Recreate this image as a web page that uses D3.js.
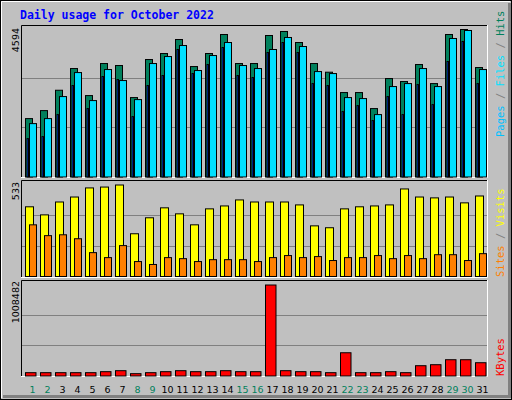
<!DOCTYPE html>
<html><head><meta charset="utf-8">
<script src="https://cdn.jsdelivr.net/npm/d3@7"></script>
<style>body{margin:0;background:#fff}</style>
</head><body><div id="chart"></div>
<script>
// Webalizer style daily usage, October 2022
var days = d3.range(1, 32)
var weekend = [1, 2, 8, 9, 15, 16, 22, 23, 29, 30]
var hits = [1819,2068,2702,3378,2536,3534,3472,2474,3659,3846,4282,3440,3846,4438,3534,3534,4407,4532,4189,3534,3264,2630,2630,2131,3066,2973,3503,2910,4438,4594,3409]
var files = [1663,1819,2505,3253,2380,3347,3004,2411,3534,3752,4095,3316,3783,4189,3472,3378,3971,4345,4064,3284,3222,2474,2443,1944,2817,2910,3378,2817,4314,4563,3347]
var pages = [1195,1258,1944,2848,2131,3129,3035,1881,2848,3160,3971,3222,3503,4033,3160,3097,3877,4189,3877,2910,2848,2037,2224,1757,2505,1944,2879,2255,3596,4220,2910]
var visits = [406,359,434,463,516,521,533,249,342,400,365,301,394,411,446,434,434,434,417,295,284,394,406,411,417,510,463,458,463,429,469]
var sites = [301,238,243,220,139,110,180,87,70,110,104,87,98,98,98,87,110,122,110,116,93,110,110,122,104,122,104,127,127,93,133]
var kbytes = [36806,36806,36806,36806,36806,47848,58890,25764,36806,47848,58890,47848,47848,58890,47848,47848,1008482,58890,47848,47848,36806,257642,36806,36806,47848,36806,114099,125140,180349,180349,147224]

var W = 512, H = 400
var svg = d3.select('#chart').append('svg').attr('width', W).attr('height', H)

// frame
svg.append('rect').attr('x', 0.5).attr('y', 0.5).attr('width', W - 1).attr('height', H - 1)
  .attr('fill', '#c0c0c0').attr('stroke', '#000')
svg.append('path').attr('d', 'M1.5,398V1.5H510').attr('stroke', '#fff').attr('fill', 'none')
svg.append('path').attr('d', 'M3,396.5H509.5V3').attr('stroke', '#808080').attr('stroke-width', 3).attr('fill', 'none')

svg.append('text').attr('x', 20).attr('y', 19).text('Daily usage for October 2022')
  .attr('font-family', 'DejaVu Sans Mono, monospace').attr('font-weight', 'bold')
  .attr('font-size', 11.5).attr('fill', '#0000ff')

var x = d3.scaleBand().domain(days).range([21, 486])

function panel(top, bottom, yscale, maxVal) {
  svg.append('rect').attr('x', 21).attr('y', top).attr('width', 466).attr('height', bottom - top)
    .attr('fill', '#c0c0c0')
  svg.append('path').attr('d', 'M21.5,' + bottom + 'V' + (top + 0.5) + 'H487')
    .attr('stroke', '#000').attr('fill', 'none')
  svg.append('path').attr('d', 'M21,' + (bottom + 0.5) + 'H487.5V' + top)
    .attr('stroke', '#fff').attr('fill', 'none')
  ;[1, 2].forEach(k => {
    var y = Math.round(yscale(maxVal * k / 3)) + 0.5
    svg.append('line').attr('x1', 22).attr('x2', 487).attr('y1', y).attr('y2', y)
      .attr('stroke', '#808080')
  })
}

function bars(vals, y, off, w, color) {
  svg.append('g').selectAll('rect').data(vals).enter().append('rect')
    .attr('x', (d, i) => x(days[i]) + off + 0.5)
    .attr('y', d => y(d) + 0.5)
    .attr('width', w)
    .attr('height', d => y(0) - y(d))
    .attr('fill', color).attr('stroke', '#000')
}

// hits / files / pages
var y1 = d3.scaleLinear().domain([0, 4594]).range([176.5, 29])
panel(25, 177, y1, 4594)
bars(hits, y1, 4, 7, '#00805c')
bars(files, y1, 8, 7, '#00e0ff')
bars(pages, y1, 5.5, 1.5, '#0040ff')

// visits / sites
var y2 = d3.scaleLinear().domain([0, 533]).range([276, 184.5])
panel(180, 277, y2, 533)
bars(visits, y2, 4, 8, '#ffff00')
bars(sites, y2, 8, 7, '#ff8000')

// kbytes
var y3 = d3.scaleLinear().domain([0, 1008482]).range([375.5, 284.5])
panel(280, 376, y3, 1008482)
bars(kbytes, y3, 4, 10.5, '#ff0000')

// day labels
svg.append('g').selectAll('text').data(days).enter().append('text')
  .attr('x', d => x(d) + 11.5).attr('y', 393)
  .attr('text-anchor', 'middle').attr('font-family', 'DejaVu Sans, sans-serif').attr('font-size', 9.5)
  .attr('fill', d => weekend.indexOf(d) >= 0 ? '#00805c' : '#000')
  .text(d => d)

// left max labels
;[['4594', 28], ['533', 182], ['1008482', 281]].forEach(l => {
  svg.append('text').attr('transform', 'translate(19,' + l[1] + ') rotate(-90)')
    .attr('text-anchor', 'end').attr('font-family', 'DejaVu Sans, sans-serif').attr('font-size', 9.5)
    .attr('fill', '#000').text(l[0])
})

// right legends
function legend(yEnd, parts) {
  var t = svg.append('text').attr('transform', 'translate(504,' + yEnd + ') rotate(-90)')
    .attr('font-family', 'DejaVu Sans Mono, monospace').attr('font-size', 10.5)
  parts.forEach(p => t.append('tspan').attr('fill', p[1]).text(p[0]))
}
legend(137, [['Pages', '#00c0ff'], [' / ', '#808080'], ['Files', '#00e0ff'], [' / ', '#808080'], ['Hits', '#00805c']])
legend(277, [['Sites', '#ff8000'], [' / ', '#808080'], ['Visits', '#ffff00']])
legend(376, [['KBytes', '#ff0000']])
</script>
</body></html>
